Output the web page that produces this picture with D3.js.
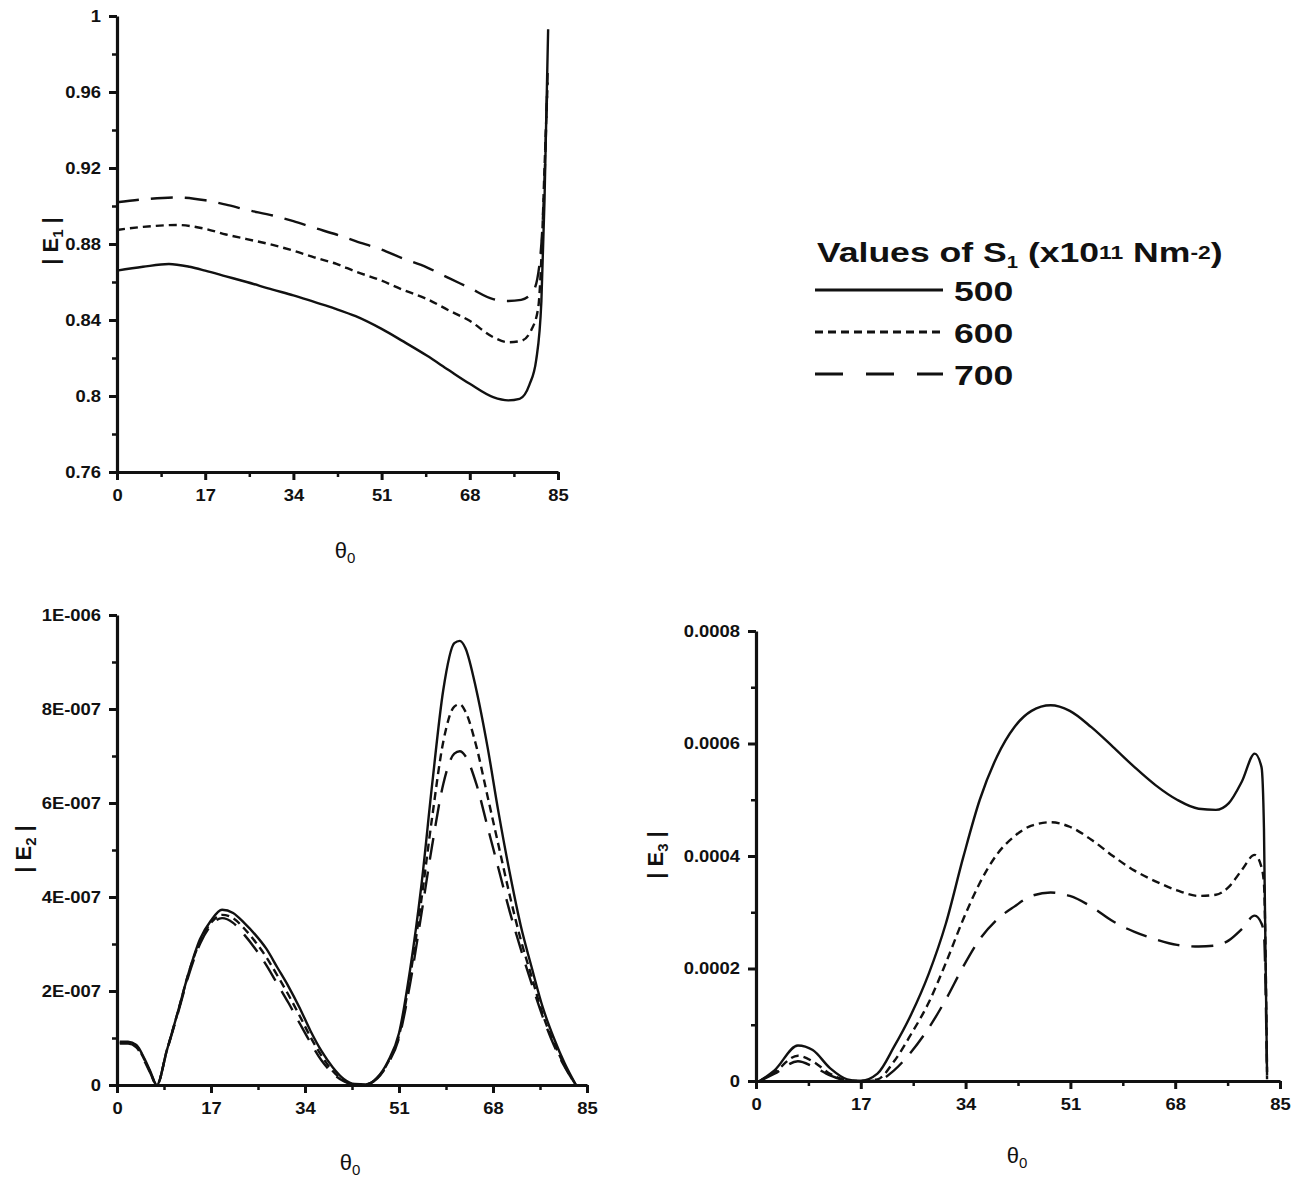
<!DOCTYPE html>
<html>
<head>
<script src="https://d3js.org/d3.v7.min.js"></script>
<style>
body {
  margin: 0;
  background: #ffffff;
  font-family: "Liberation Sans", Arial, sans-serif;
}
.tick text {
  font-family: "Liberation Sans", Arial, sans-serif;
  font-weight: bold;
  font-size: 16px;
  fill: #111;
}
</style>
</head>
<body>
<div id="chart"></div>

<script>
// ---- data ----
const xTicks = [0, 17, 34, 51, 68, 85];
const xTickLabels = ["0", "17", "34", "51", "68", "85"];

// |E1|
const e1Ticks = [0.76, 0.8, 0.84, 0.88, 0.92, 0.96, 1];
const e1TickLabels = ["0.76", "0.8", "0.84", "0.88", "0.92", "0.96", "1"];
const e1Theta500 = [0, 5, 10, 14, 17, 21, 25, 30, 34, 38, 42, 46, 51, 55, 59.7, 64, 68, 72.5, 75.4, 77.6, 79.5, 80.8, 81.8, 82.4, 83.1];
const e1Val500 = [0.866, 0.868, 0.8695, 0.868, 0.866, 0.863, 0.86, 0.856, 0.853, 0.8495, 0.846, 0.842, 0.8353, 0.829, 0.8213, 0.8135, 0.8064, 0.7994, 0.7977, 0.7985, 0.806, 0.819, 0.85, 0.903, 0.993];
const e1Theta600 = [0, 5, 11.5, 17, 21, 25, 30, 34, 38, 42.3, 46, 51, 55, 59.7, 64, 67.9, 72.5, 75.4, 77.9, 79.9, 81.2, 81.8, 82.4, 83];
const e1Val600 = [0.8874, 0.889, 0.890, 0.888, 0.885, 0.8826, 0.8795, 0.8765, 0.873, 0.8695, 0.8655, 0.8607, 0.856, 0.8511, 0.845, 0.8397, 0.831, 0.8283, 0.829, 0.835, 0.8467, 0.873, 0.92, 0.965];
const e1Theta700 = [0, 5, 11.5, 17, 21, 25, 30, 34, 38, 42.3, 46, 51, 55, 59.7, 64, 67.9, 72.5, 75.4, 77.9, 80.2, 81.5, 82.2, 83];
const e1Val700 = [0.902, 0.9035, 0.9045, 0.903, 0.9007, 0.898, 0.895, 0.892, 0.8885, 0.885, 0.8815, 0.877, 0.8725, 0.8677, 0.862, 0.857, 0.851, 0.850, 0.8506, 0.855, 0.871, 0.9, 0.97];

// |E2|  (values in units of 1E-007)
const e2Ticks = [0, 2e-7, 4e-7, 6e-7, 8e-7, 1e-6];
const e2TickLabels = ["0", "2E-007", "4E-007", "6E-007", "8E-007", "1E-006"];
const e2Theta = [0.5, 2, 3.5, 5, 6, 7.2, 9, 11, 13, 15, 17, 19, 21, 23, 25, 27, 29, 31, 33, 35, 37, 39, 41, 43, 45, 47, 49, 51, 53, 55, 57, 59, 61, 62, 63, 65, 67, 69, 71, 73, 75, 77, 79, 81, 83];
const e2Val500 = [0.92, 0.92, 0.85, 0.55, 0.3, 0, 0.73, 1.55, 2.4, 3.1, 3.5, 3.73, 3.66, 3.45, 3.2, 2.9, 2.5, 2.1, 1.65, 1.15, 0.72, 0.38, 0.13, 0.02, 0.01, 0.15, 0.5, 1.1, 2.45, 4.2, 6.4, 8.4, 9.4, 9.45, 9.3, 8.4, 7.2, 5.8, 4.53, 3.4, 2.5, 1.65, 1.0, 0.45, 0];
const e2Val600 = [0.9, 0.9, 0.83, 0.53, 0.28, 0, 0.73, 1.55, 2.4, 3.05, 3.45, 3.62, 3.55, 3.33, 3.05, 2.72, 2.33, 1.92, 1.48, 1.02, 0.62, 0.3, 0.1, 0.01, 0.01, 0.14, 0.48, 1.05, 2.3, 3.9, 5.7, 7.3, 8.05, 8.1, 7.95, 7.2, 6.15, 5.1, 4.05, 3.1, 2.3, 1.5, 0.9, 0.4, 0];
const e2Val700 = [0.88, 0.88, 0.8, 0.5, 0.26, 0, 0.72, 1.52, 2.35, 3.0, 3.4, 3.55, 3.45, 3.2, 2.9, 2.55, 2.15, 1.75, 1.32, 0.9, 0.52, 0.25, 0.08, 0.01, 0.01, 0.13, 0.45, 1.0, 2.15, 3.6, 5.1, 6.4, 7.05, 7.1, 7.0, 6.4, 5.5, 4.6, 3.7, 2.9, 2.15, 1.45, 0.85, 0.38, 0];

// |E3|  (values in units of 1E-004)
const e3Ticks = [0, 0.0002, 0.0004, 0.0006, 0.0008];
const e3TickLabels = ["0", "0.0002", "0.0004", "0.0006", "0.0008"];
const e3Theta = [0.6, 3, 6.8, 9.2, 12, 14.8, 16.9, 19.7, 22.4, 25.2, 28, 30.8, 33.6, 36.3, 39.1, 41.9, 44.7, 47.8, 50.9, 54.4, 57.9, 61.4, 64.8, 68.3, 71.8, 74.6, 76.7, 78.8, 80.9, 82, 82.4, 82.9];
const e3Val500 = [0, 0.19, 0.63, 0.55, 0.23, 0.03, 0, 0.13, 0.61, 1.19, 1.9, 2.8, 3.97, 5.0, 5.77, 6.29, 6.58, 6.68, 6.58, 6.29, 5.94, 5.58, 5.26, 5.0, 4.84, 4.82, 4.94, 5.32, 5.82, 5.58, 4.48, 0.1];
const e3Val600 = [0, 0.16, 0.45, 0.35, 0.13, 0.01, 0, 0.03, 0.35, 0.84, 1.39, 2.1, 2.87, 3.52, 4.03, 4.35, 4.54, 4.6, 4.52, 4.29, 4.0, 3.74, 3.55, 3.39, 3.29, 3.31, 3.45, 3.75, 4.02, 3.8, 3.5, 0.16];
const e3Val700 = [0, 0.13, 0.35, 0.26, 0.1, 0.01, 0, 0.01, 0.19, 0.52, 0.94, 1.45, 2.03, 2.52, 2.87, 3.1, 3.29, 3.35, 3.29, 3.1, 2.84, 2.65, 2.52, 2.42, 2.39, 2.41, 2.5, 2.7, 2.94, 2.8, 2.6, 0.03];

const legendValues = ["500", "600", "700"];

// ---- drawing ----
const svg = d3.select("#chart")
  .append("svg")
  .attr("width", 1301)
  .attr("height", 1179);

const dashes = ["none", "8,5", "22,12"];
const stretch = 1.15;   // the printed labels are a bit wide

function panel(opt) {
  const x = d3.scaleLinear().domain([0, 85]).range([opt.x0, opt.x1]);
  const y = d3.scaleLinear().domain(opt.yDomain).range([opt.yBot, opt.yTop]);
  const g = svg.append("g");

  // minor ticks
  const xMinor = d3.range(8.5, 85, 17);
  g.append("g")
    .attr("transform", `translate(0,${opt.yBot})`)
    .call(d3.axisBottom(x).tickValues(xMinor).tickSize(5).tickFormat("").tickSizeOuter(0))
    .call(s => s.select(".domain").remove())
    .selectAll("line").attr("stroke", "#111").attr("stroke-width", 2.5);
  g.append("g")
    .attr("transform", `translate(${opt.x0},0)`)
    .call(d3.axisLeft(y).tickValues(opt.yMinor).tickSize(5).tickFormat("").tickSizeOuter(0))
    .call(s => s.select(".domain").remove())
    .selectAll("line").attr("stroke", "#111").attr("stroke-width", 2.5);

  // major axes
  const xa = g.append("g")
    .attr("transform", `translate(0,${opt.yBot})`)
    .call(d3.axisBottom(x).tickValues(xTicks).tickFormat((d, i) => xTickLabels[i]).tickSize(8).tickSizeOuter(0).tickPadding(10));
  const ya = g.append("g")
    .attr("transform", `translate(${opt.x0},0)`)
    .call(d3.axisLeft(y).tickValues(opt.yTicks).tickFormat((d, i) => opt.yLabels[i]).tickSize(8).tickSizeOuter(0).tickPadding(8));
  [xa, ya].forEach(a => {
    a.select(".domain").attr("stroke", "#111").attr("stroke-width", 3.2);
    a.selectAll(".tick line").attr("stroke", "#111").attr("stroke-width", 3);
    a.selectAll(".tick text").attr("transform", `scale(${stretch},1)`);
  });
  ya.selectAll(".tick text").attr("x", -16 / stretch);

  // curves
  const line = d3.line()
    .x(d => x(d[0]))
    .y(d => y(d[1] * opt.unit))
    .curve(d3.curveMonotoneX);
  opt.series.forEach((s, i) => {
    g.append("path")
      .datum(d3.zip(s.theta, s.val))
      .attr("fill", "none")
      .attr("stroke", "#111")
      .attr("stroke-width", 2.4)
      .attr("stroke-dasharray", dashes[i])
      .attr("d", line);
  });

  // axis titles
  const yl = g.append("text")
    .attr("transform", `translate(${opt.ylx},${opt.yly}) rotate(-90)`)
    .attr("text-anchor", "middle")
    .style("font-size", "22px")
    .style("font-weight", "bold")
    .attr("fill", "#111");
  yl.append("tspan").text("| E");
  yl.append("tspan").attr("dy", 5).style("font-size", "15px").text(opt.sub);
  yl.append("tspan").attr("dy", -5).text(" |");

  const xl = g.append("text")
    .attr("x", opt.xlx).attr("y", opt.xly)
    .attr("text-anchor", "middle")
    .style("font-size", "22px")
    .attr("fill", "#111");
  xl.append("tspan").text("θ");
  xl.append("tspan").attr("dy", 5).style("font-size", "15px").text("0");
}

panel({
  x0: 117, x1: 558, yTop: 16, yBot: 472,
  yDomain: [0.76, 1], yTicks: e1Ticks, yLabels: e1TickLabels,
  yMinor: d3.range(0.78, 1, 0.04), unit: 1,
  ylx: 58, yly: 241, sub: "1", xlx: 345, xly: 558,
  series: [
    {theta: e1Theta500, val: e1Val500},
    {theta: e1Theta600, val: e1Val600},
    {theta: e1Theta700, val: e1Val700}
  ]
});

panel({
  x0: 117, x1: 587, yTop: 615, yBot: 1085,
  yDomain: [0, 1e-6], yTicks: e2Ticks, yLabels: e2TickLabels,
  yMinor: d3.range(1e-7, 1e-6, 2e-7), unit: 1e-7,
  ylx: 31, yly: 849, sub: "2", xlx: 350, xly: 1170,
  series: [
    {theta: e2Theta, val: e2Val500},
    {theta: e2Theta, val: e2Val600},
    {theta: e2Theta, val: e2Val700}
  ]
});

panel({
  x0: 756, x1: 1280, yTop: 631, yBot: 1081,
  yDomain: [0, 8e-4], yTicks: e3Ticks, yLabels: e3TickLabels,
  yMinor: d3.range(1e-4, 8e-4, 2e-4), unit: 1e-4,
  ylx: 663, yly: 855, sub: "3", xlx: 1017, xly: 1163,
  series: [
    {theta: e3Theta, val: e3Val500},
    {theta: e3Theta, val: e3Val600},
    {theta: e3Theta, val: e3Val700}
  ]
});

// legend
const lg = svg.append("g");
const lgText = lg.append("g").attr("transform", "scale(1.27,1)");
const title = lgText.append("text")
  .attr("x", 817 / 1.27).attr("y", 262)
  .style("font-size", "28px")
  .style("font-weight", "bold")
  .attr("fill", "#111");
title.append("tspan").text("Values of S");
title.append("tspan").attr("dy", 6).style("font-size", "16px").text("1");
title.append("tspan").attr("dy", -6).text(" (x10");
title.append("tspan").attr("dy", -3).style("font-size", "18px").text("11");
title.append("tspan").attr("dy", 3).text(" Nm");
title.append("tspan").attr("dy", -3).style("font-size", "18px").text("-2");
title.append("tspan").attr("dy", 3).text(")");

const legendDash = ["none", "8,5", "28,23"];
legendValues.forEach((v, i) => {
  const yy = 290 + i * 42;
  lg.append("line")
    .attr("x1", 815).attr("x2", 943)
    .attr("y1", yy).attr("y2", yy)
    .attr("stroke", "#111")
    .attr("stroke-width", 3)
    .attr("stroke-dasharray", legendDash[i]);
  lgText.append("text")
    .attr("x", 954 / 1.27).attr("y", yy + 11)
    .style("font-size", "28px")
    .style("font-weight", "bold")
    .attr("fill", "#111")
    .text(v);
});
</script>
</body>
</html>
